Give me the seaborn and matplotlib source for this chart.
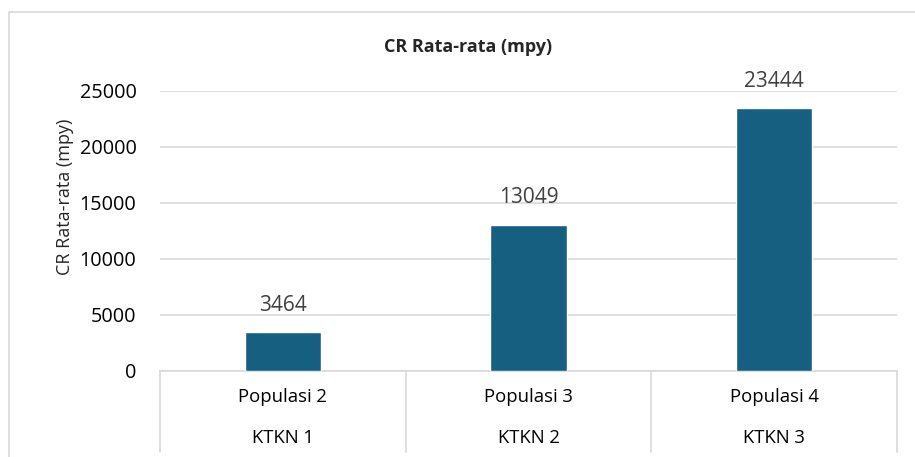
import matplotlib
matplotlib.use('Agg')

import matplotlib.pyplot as plt
import matplotlib.patches as mpatches
import seaborn as sns
import pandas as pd

# data
populasi = ['Populasi 2', 'Populasi 3', 'Populasi 4']
ktkn = ['KTKN 1', 'KTKN 2', 'KTKN 3']
cr_rata = [3464, 13049, 23444]
y_ticks = [0, 5000, 10000, 15000, 20000, 25000]

df = pd.DataFrame({'kategori': populasi, 'cr': cr_rata})

sns.set_style('white')
plt.rcParams['font.family'] = ['Open Sans', 'DejaVu Sans']

fig = plt.figure(figsize=(9.15, 4.57), dpi=100)
ax = fig.add_axes([0.1749, 0.1882, 0.8054, 0.6127])

grid_col = '#d9d9d9'
sns.barplot(data=df, x='kategori', y='cr', color='#175f80', width=0.31,
            saturation=1, ax=ax, zorder=3)

ax.set_ylim(0, 25000)
ax.set_xlim(-0.5, 2.5)
ax.set_yticks(y_ticks)
ax.set_yticklabels([str(t) for t in y_ticks], fontsize=14.3, color='#000000')
ax.tick_params(axis='y', length=0, pad=17)
ax.set_xticks([])
ax.set_xlabel('')
ax.set_ylabel('')
ax.yaxis.grid(True, color=grid_col, lw=1.2)
ax.set_axisbelow(True)
for s in ['left', 'right', 'top']:
    ax.spines[s].set_visible(False)
ax.spines['bottom'].set_color(grid_col)
ax.spines['bottom'].set_linewidth(1.2)

# data labels
ax.bar_label(ax.containers[0], labels=[str(v) for v in cr_rata],
             padding=12, fontsize=15, color='#404040')

# multi-level category axis
tr = ax.get_xaxis_transform()
for xb in [-0.5, 0.5, 1.5, 2.5]:
    ax.plot([xb, xb], [0, -0.29], transform=tr, color=grid_col, lw=1.2,
            clip_on=False)
for i, (p, k) in enumerate(zip(populasi, ktkn)):
    ax.text(i, -0.093, p, transform=tr, ha='center', va='center',
            fontsize=13.3, color='#000000')
    ax.text(i, -0.239, k, transform=tr, ha='center', va='center',
            fontsize=13.3, color='#000000')

fig.text(0.511, 0.897, 'CR Rata-rata (mpy)', ha='center', va='center',
         fontsize=13, fontweight='bold')
fig.text(0.071, 0.569, 'CR Rata-rata (mpy)', ha='center', va='center',
         rotation=90, fontsize=13)

# chart border
fig.patches.append(mpatches.Rectangle((0.0098, -0.2), 1.5, 1.174,
                                      transform=fig.transFigure, fill=False,
                                      edgecolor=grid_col, lw=1.2))

fig.savefig('out.png', dpi=100)
